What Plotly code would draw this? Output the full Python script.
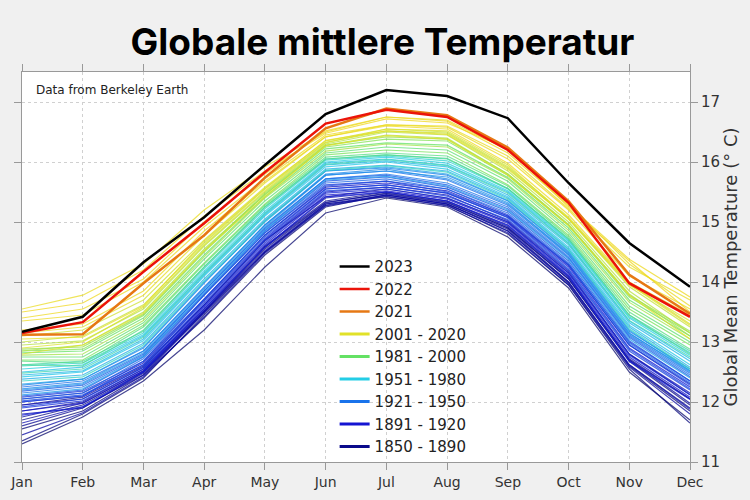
import plotly.graph_objects as go

months = ["Jan", "Feb", "Mar", "Apr", "May", "Jun", "Jul", "Aug", "Sep", "Oct", "Nov", "Dec"]

t2023 = [13.17, 13.42, 14.33, 15.08, 15.95, 16.80, 17.20, 17.10, 16.73, 15.65, 14.65, 13.92]
t2022 = [13.15, 13.33, 14.17, 14.98, 15.83, 16.64, 16.87, 16.75, 16.20, 15.32, 13.98, 13.42]
t2021 = [13.12, 13.13, 13.98, 14.78, 15.74, 16.56, 16.89, 16.78, 16.24, 15.35, 14.12, 13.47]

years_1850_1890 = [1850, 1855, 1860, 1865, 1870, 1875, 1878, 1882, 1886, 1890]
temps_1850_1890 = [
    [11.30, 11.75, 12.35, 13.20, 14.25, 15.15, 15.40, 15.25, 14.75, 13.90, 12.50, 11.70],
    [11.55, 11.85, 12.45, 13.40, 14.45, 15.25, 15.45, 15.30, 14.85, 13.98, 12.60, 11.85],
    [11.35, 11.80, 12.40, 13.45, 14.50, 15.30, 15.42, 15.28, 14.80, 13.95, 12.55, 11.65],
    [11.70, 11.95, 12.50, 13.50, 14.55, 15.32, 15.48, 15.33, 14.90, 14.05, 12.68, 11.95],
    [11.85, 12.00, 12.55, 13.55, 14.60, 15.35, 15.50, 15.35, 14.92, 14.08, 12.72, 12.05],
    [11.60, 11.90, 12.48, 13.48, 14.50, 15.28, 15.45, 15.30, 14.88, 14.00, 12.62, 11.90],
    [11.95, 12.08, 12.60, 13.62, 14.70, 15.42, 15.55, 15.40, 15.00, 14.15, 12.80, 12.12],
    [11.75, 11.98, 12.52, 13.52, 14.58, 15.33, 15.47, 15.32, 14.90, 14.05, 12.70, 11.98],
    [11.45, 11.82, 12.42, 13.42, 14.48, 15.27, 15.43, 15.27, 14.82, 13.95, 12.58, 11.80],
    [11.65, 11.92, 12.45, 13.50, 14.52, 15.30, 15.45, 15.30, 14.85, 14.00, 12.62, 11.88],
]

years_1891_1920 = [1891, 1894, 1898, 1902, 1906, 1909, 1912, 1915, 1918, 1920]
temps_1891_1920 = [
    [11.80, 11.90, 12.50, 13.52, 14.58, 15.40, 15.50, 15.35, 14.95, 14.10, 12.70, 12.05],
    [11.95, 12.05, 12.58, 13.62, 14.68, 15.50, 15.58, 15.45, 15.02, 14.18, 12.80, 12.15],
    [12.05, 12.15, 12.65, 13.72, 14.78, 15.58, 15.65, 15.52, 15.10, 14.28, 12.95, 12.30],
    [11.85, 11.98, 12.52, 13.58, 14.62, 15.45, 15.52, 15.38, 14.98, 14.12, 12.75, 12.08],
    [12.00, 12.10, 12.62, 13.68, 14.72, 15.55, 15.62, 15.48, 15.08, 14.25, 12.90, 12.25],
    [11.78, 11.92, 12.50, 13.55, 14.58, 15.42, 15.50, 15.35, 14.94, 14.09, 12.68, 12.04],
    [11.90, 12.02, 12.55, 13.60, 14.65, 15.48, 15.55, 15.40, 15.00, 14.15, 12.78, 12.12],
    [12.08, 12.18, 12.68, 13.78, 14.82, 15.62, 15.68, 15.55, 15.12, 14.30, 13.00, 12.35],
    [11.92, 12.05, 12.58, 13.65, 14.70, 15.52, 15.58, 15.43, 15.04, 14.20, 12.85, 12.20],
    [12.02, 12.12, 12.62, 13.70, 14.75, 15.55, 15.62, 15.48, 15.07, 14.22, 12.88, 12.22],
]

years_1921_1950 = [1921, 1924, 1927, 1930, 1933, 1936, 1939, 1942, 1945, 1948]
temps_1921_1950 = [
    [12.00, 12.10, 12.68, 13.72, 14.78, 15.60, 15.68, 15.50, 15.10, 14.28, 12.95, 12.28],
    [12.10, 12.20, 12.75, 13.80, 14.85, 15.68, 15.75, 15.58, 15.18, 14.35, 13.02, 12.35],
    [12.18, 12.28, 12.80, 13.85, 14.90, 15.72, 15.78, 15.62, 15.22, 14.40, 13.08, 12.42],
    [12.05, 12.15, 12.72, 13.78, 14.82, 15.65, 15.72, 15.55, 15.15, 14.32, 12.98, 12.32],
    [12.25, 12.35, 12.85, 13.92, 14.95, 15.78, 15.85, 15.70, 15.28, 14.45, 13.12, 12.48],
    [12.15, 12.25, 12.78, 13.85, 14.88, 15.72, 15.80, 15.65, 15.25, 14.42, 13.10, 12.45],
    [12.28, 12.38, 12.90, 13.98, 15.02, 15.85, 15.90, 15.78, 15.35, 14.50, 13.18, 12.55],
    [12.22, 12.32, 12.85, 13.90, 14.95, 15.80, 15.88, 15.72, 15.30, 14.48, 13.15, 12.50],
    [12.20, 12.30, 12.82, 13.88, 14.92, 15.78, 15.85, 15.75, 15.32, 14.46, 13.14, 12.52],
    [12.12, 12.22, 12.76, 13.82, 14.86, 15.70, 15.76, 15.60, 15.20, 14.38, 13.05, 12.40],
]

years_1951_1980 = [1951, 1954, 1957, 1960, 1963, 1966, 1969, 1972, 1975, 1978]
temps_1951_1980 = [
    [12.30, 12.38, 12.92, 14.00, 15.00, 15.85, 15.92, 15.80, 15.36, 14.52, 13.20, 12.52],
    [12.38, 12.45, 12.98, 14.05, 15.05, 15.88, 15.95, 15.85, 15.40, 14.55, 13.25, 12.58],
    [12.45, 12.52, 13.05, 14.12, 15.12, 15.95, 16.02, 15.92, 15.45, 14.62, 13.32, 12.68],
    [12.50, 12.58, 13.10, 14.15, 15.15, 15.98, 16.05, 15.95, 15.50, 14.65, 13.35, 12.72],
    [12.42, 12.50, 13.02, 14.10, 15.10, 15.92, 16.00, 15.88, 15.42, 14.58, 13.28, 12.62],
    [12.55, 12.62, 13.12, 14.18, 15.18, 16.00, 16.08, 15.98, 15.52, 14.68, 13.40, 12.78],
    [12.60, 12.65, 13.15, 14.22, 15.22, 16.03, 16.10, 16.02, 15.55, 14.70, 13.42, 12.82],
    [12.35, 12.42, 12.95, 14.02, 15.02, 15.86, 15.94, 15.83, 15.38, 14.54, 13.22, 12.55],
    [12.48, 12.55, 13.08, 14.14, 15.14, 15.96, 16.04, 15.94, 15.48, 14.64, 13.36, 12.75],
    [12.62, 12.68, 13.18, 14.25, 15.25, 16.05, 16.12, 16.05, 15.56, 14.72, 13.45, 12.85],
]

years_1981_2000 = [1981, 1984, 1987, 1990, 1993, 1995, 1998, 2000]
temps_1981_2000 = [
    [12.62, 12.60, 13.20, 14.25, 15.25, 16.05, 16.12, 16.06, 15.56, 14.72, 13.45, 12.80],
    [12.68, 12.65, 13.25, 14.30, 15.28, 16.08, 16.15, 16.10, 15.60, 14.75, 13.50, 12.88],
    [12.75, 12.75, 13.32, 14.38, 15.35, 16.15, 16.25, 16.20, 15.68, 14.82, 13.60, 13.00],
    [12.82, 12.85, 13.40, 14.45, 15.42, 16.22, 16.32, 16.28, 15.74, 14.90, 13.70, 13.10],
    [12.70, 12.70, 13.28, 14.32, 15.30, 16.12, 16.20, 16.15, 15.62, 14.78, 13.55, 12.95],
    [12.85, 12.88, 13.44, 14.50, 15.46, 16.25, 16.38, 16.35, 15.78, 14.94, 13.75, 13.15],
    [12.88, 12.92, 13.46, 14.52, 15.48, 16.28, 16.42, 16.38, 15.80, 14.96, 13.78, 13.18],
    [12.78, 12.80, 13.36, 14.42, 15.40, 16.18, 16.30, 16.25, 15.72, 14.86, 13.66, 13.05],
]

years_2001_2020 = [2001, 2003, 2005, 2007, 2009, 2011, 2013, 2015, 2016, 2017, 2018, 2019, 2020]
temps_2001_2020 = [
    [12.85, 12.95, 13.50, 14.55, 15.45, 16.28, 16.45, 16.40, 15.80, 14.95, 13.80, 13.10],
    [12.95, 13.02, 13.55, 14.60, 15.50, 16.30, 16.50, 16.45, 15.85, 15.00, 13.85, 13.15],
    [13.00, 13.10, 13.62, 14.65, 15.55, 16.33, 16.52, 16.48, 15.90, 15.05, 13.92, 13.25],
    [13.10, 13.20, 13.70, 14.70, 15.58, 16.35, 16.55, 16.50, 15.92, 15.08, 13.98, 13.30],
    [12.90, 13.00, 13.58, 14.62, 15.52, 16.32, 16.55, 16.52, 15.95, 15.05, 13.95, 13.35],
    [12.80, 12.95, 13.48, 14.52, 15.42, 16.27, 16.44, 16.38, 15.78, 14.94, 13.78, 13.05],
    [13.05, 13.08, 13.60, 14.68, 15.56, 16.36, 16.52, 16.46, 15.88, 15.06, 13.96, 13.28],
    [13.15, 13.25, 13.78, 14.78, 15.65, 16.42, 16.62, 16.60, 16.10, 15.22, 14.25, 13.70],
    [13.55, 13.78, 14.30, 15.20, 15.92, 16.50, 16.75, 16.70, 16.20, 15.30, 14.30, 13.60],
    [13.35, 13.45, 14.00, 14.92, 15.72, 16.45, 16.62, 16.58, 16.05, 15.20, 14.10, 13.55],
    [13.20, 13.30, 13.85, 14.85, 15.68, 16.42, 16.60, 16.55, 15.98, 15.12, 14.00, 13.45],
    [13.40, 13.55, 14.05, 15.00, 15.80, 16.52, 16.75, 16.68, 16.15, 15.28, 14.38, 13.75],
    [13.50, 13.65, 14.20, 15.10, 15.85, 16.48, 16.72, 16.65, 16.22, 15.25, 14.35, 13.50],
]

group_labels = ["1850 - 1890", "1891 - 1920", "1921 - 1950", "1951 - 1980", "1981 - 2000", "2001 - 2020"]
group_years = [years_1850_1890, years_1891_1920, years_1921_1950, years_1951_1980, years_1981_2000, years_2001_2020]
group_temps = [temps_1850_1890, temps_1891_1920, temps_1921_1950, temps_1951_1980, temps_1981_2000, temps_2001_2020]
group_mid_years = [1870, 1905, 1935, 1965, 1990, 2010]

# colour anchors (year -> rgb) for the year-based colour ramp
anchor_years = [1850, 1885, 1905, 1935, 1965, 1990, 2010, 2020]
anchor_rgbs = [(10, 10, 110), (10, 10, 160), (20, 20, 210), (25, 115, 235),
               (35, 205, 230), (100, 225, 100), (225, 225, 40), (240, 215, 30)]


def year_color(year, alpha=None):
    for i in range(len(anchor_years) - 1):
        y0, y1 = anchor_years[i], anchor_years[i + 1]
        if y0 <= year <= y1:
            f = (year - y0) / (y1 - y0)
            c = [round(a + (b - a) * f) for a, b in zip(anchor_rgbs[i], anchor_rgbs[i + 1])]
            break
    else:
        c = list(anchor_rgbs[-1])
    if alpha is None:
        return f"rgb({c[0]},{c[1]},{c[2]})"
    return f"rgba({c[0]},{c[1]},{c[2]},{alpha})"


fig = go.Figure()

for label, yrs, temps in zip(group_labels, group_years, group_temps):
    for yr, vals in zip(yrs, temps):
        fig.add_trace(go.Scatter(
            x=months, y=vals, mode="lines",
            line=dict(color=year_color(yr, 0.75), width=1.2),
            showlegend=False, hoverinfo="skip"))

for rank, (label, my) in enumerate(zip(group_labels, group_mid_years)):
    fig.add_trace(go.Scatter(
        x=[None], y=[None], mode="lines", name=label,
        line=dict(color=year_color(my), width=3),
        legendrank=100 - rank))

fig.add_trace(go.Scatter(x=months, y=t2021, mode="lines", name="2021",
                         line=dict(color="rgb(230,120,20)", width=2.5), legendrank=3))
fig.add_trace(go.Scatter(x=months, y=t2022, mode="lines", name="2022",
                         line=dict(color="rgb(235,20,10)", width=2.5), legendrank=2))
fig.add_trace(go.Scatter(x=months, y=t2023, mode="lines", name="2023",
                         line=dict(color="black", width=2.5), legendrank=1))

axis_font = dict(family="DejaVu Sans", size=14, color="#333333")

fig.update_layout(
    width=750, height=500,
    margin=dict(l=22, r=60, t=72, b=38, autoexpand=False),
    paper_bgcolor="#f0f0f0",
    plot_bgcolor="white",
    title=dict(text="<b>Globale mittlere Temperatur</b>", x=0.51, xanchor="center",
               y=0.916, yanchor="middle",
               font=dict(family="Inter", size=37, color="black")),
    showlegend=True,
    legend=dict(x=0.468, y=0.543, xanchor="left", yanchor="top",
                bgcolor="rgba(0,0,0,0)", traceorder="normal",
                font=dict(family="DejaVu Sans", size=15, color="#222222"),
                itemwidth=30, tracegroupgap=0),
    xaxis=dict(type="category", range=[0, 11], tickfont=axis_font, automargin=False,
               showgrid=True, gridcolor="#d0d0d0", griddash="dot", gridwidth=1,
               showline=True, linecolor="#999999", mirror="ticks",
               ticks="outside", ticklen=7, tickcolor="#999999", zeroline=False),
    yaxis=dict(side="right", range=[11, 17.5], dtick=1, automargin=False,
               tickfont=dict(family="DejaVu Sans", size=15, color="#333333"),
               showgrid=True, gridcolor="#d0d0d0", griddash="dot", gridwidth=1,
               showline=True, linecolor="#999999", mirror="ticks",
               ticks="outside", ticklen=7, tickcolor="#999999", zeroline=False,
               title=dict(text="Global Mean Temperature (° C)",
                          font=dict(family="DejaVu Sans", size=18, color="#333333"), standoff=2)),
    annotations=[dict(text="Data from Berkeley Earth", xref="paper", yref="paper",
                      x=0.018, y=0.955, xanchor="left", yanchor="middle", showarrow=False,
                      font=dict(family="DejaVu Sans", size=12, color="#222222"))],
)

fig.write_html("out.html", config={"displayModeBar": False},
               post_script="document.body.style.margin='0';document.body.style.background='#f0f0f0';")
